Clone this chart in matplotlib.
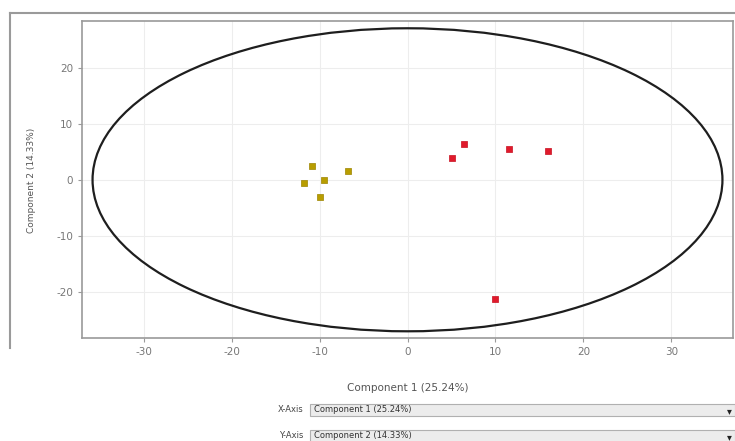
import matplotlib
matplotlib.use("Agg")
import matplotlib.pyplot as plt
from matplotlib.patches import Ellipse, Rectangle
from matplotlib.lines import Line2D

# Data
group_a_x = [-10.8, -11.8, -9.5, -9.9, -6.8]
group_a_y = [2.5, -0.5, -0.1, -3.1, 1.5]
group_b_x = [5.1, 6.4, 11.5, 16.0, 9.9]
group_b_y = [3.9, 6.4, 5.5, 5.1, -21.4]
ellipse_width = 71.6
ellipse_height = 54.2
x_ticks = [-30, -20, -10, 0, 10, 20, 30]
y_ticks = [-20, -10, 0, 10, 20]
x_label = "Component 1 (25.24%)"
y_label = "Component 2 (14.33%)"

plt.rcParams["axes.unicode_minus"] = False

W, H = 735, 441
fig = plt.figure(figsize=(W / 100, H / 100), dpi=100)
fig.patch.set_facecolor("white")

def fx(px):
    return px / W

def fy(py):
    return 1 - py / H

# Outer frame
fig.add_artist(Line2D([fx(10), fx(735)], [fy(13), fy(13)], color="#9a9a9a", lw=1.5))
fig.add_artist(Line2D([fx(10), fx(10)], [fy(13), fy(348)], color="#9a9a9a", lw=1.5))

ax = fig.add_axes([fx(82), fy(338), fx(733 - 82), (338 - 21) / H])
ax.set_xlim(-37, 37)
ax.set_ylim(-28.3, 28.4)
ax.set_xticks(x_ticks)
ax.set_yticks(y_ticks)
ax.grid(True, color="#ededed", lw=0.8)
ax.set_axisbelow(True)
for s in ax.spines.values():
    s.set_color("#9a9a9a")
    s.set_linewidth(1.2)
ax.tick_params(colors="#9a9a9a", labelcolor="#777777", labelsize=7.5, length=3, width=0.8)

ax.add_patch(Ellipse((0, 0), ellipse_width, ellipse_height, fill=False,
                     edgecolor="#1e1e1e", lw=1.6, zorder=2))
ax.scatter(group_a_x, group_a_y, marker="s", s=24, color="#b89d00",
           edgecolors="#9c8400", linewidths=0.5, zorder=3)
ax.scatter(group_b_x, group_b_y, marker="s", s=24, color="#e01a2c",
           edgecolors="#c81020", linewidths=0.5, zorder=3)

fig.text(fx(32), fy(180), y_label, rotation=90, ha="center", va="center",
         fontsize=6.5, color="#555555")
fig.text(fx(408), fy(388), x_label, ha="center", va="center",
         fontsize=7.5, color="#555555")

# Axis selector boxes
for lab, txt, yc in [("X-Axis", "Component 1 (25.24%)", 410),
                     ("Y-Axis", "Component 2 (14.33%)", 436)]:
    fig.text(fx(303), fy(yc), lab, ha="right", va="center", fontsize=6,
             color="#444444")
    fig.add_artist(Rectangle((fx(310), fy(yc + 6)), fx(735 - 310), 12 / H,
                             facecolor="#ececec", edgecolor="#b0b0b0", lw=0.8))
    fig.text(fx(314), fy(yc), txt, ha="left", va="center", fontsize=6,
             color="#333333")
    fig.text(fx(729), fy(yc + 1), "\u25be", ha="center", va="center",
             fontsize=7, color="#222222")

fig.savefig("out.png", dpi=100)
